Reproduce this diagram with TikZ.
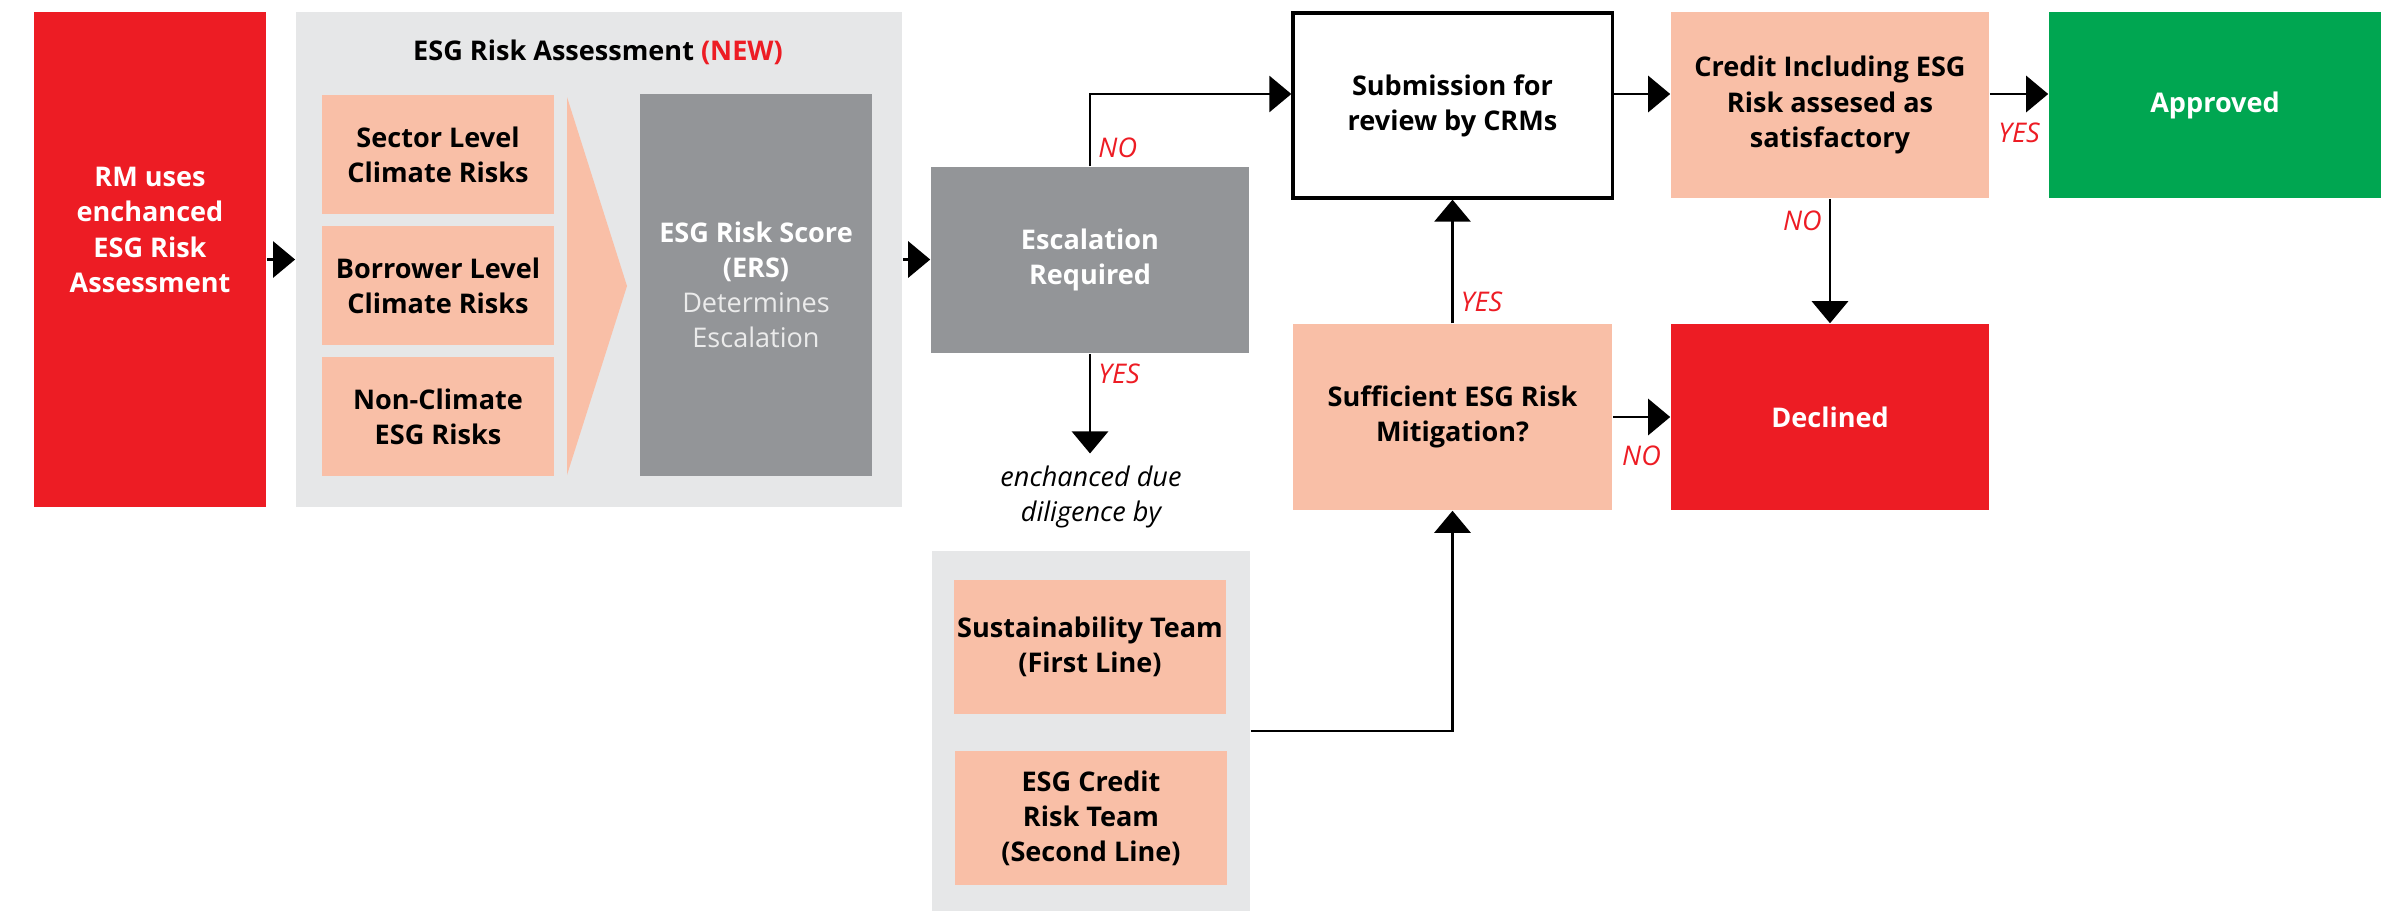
\documentclass[tikz,border=0pt]{standalone}
\usepackage{fontspec}
\setmainfont{Open Sans}
\usetikzlibrary{arrows.meta,positioning,calc}
\definecolor{esgred}{HTML}{ED1C24}
\definecolor{salmon}{HTML}{F9BFA7}
\definecolor{panelgrey}{HTML}{E6E7E8}
\definecolor{darkgrey}{HTML}{939598}
\definecolor{okgreen}{HTML}{00A651}
\def\chevron{(567,97) -- (627,286) -- (567,475) -- cycle}
\def\txt{\fontsize{7.7}{10}\selectfont}
\def\light{\mdseries\color{white!92!black}}

\begin{document}
\begin{tikzpicture}[x=0.01cm,y=-0.01cm,
  box/.style={inner sep=0pt,align=center,font=\txt\bfseries},
  riskbox/.style={box,fill=salmon,minimum width=2.32cm,minimum height=1.19cm},
  flowbox/.style={box,minimum width=3.18cm,minimum height=1.86cm},
  answer/.style={text=esgred,font=\txt\itshape,inner sep=2pt},
  arr/.style={line width=0.8pt,-{Triangle[length=0.22cm,width=0.36cm]}}]
\useasboundingbox (0,0) rectangle (2388,911);
\coordinate (toprow) at (0,94);
   % assessment block
   \node[box,fill=esgred,minimum width=2.32cm,minimum height=4.95cm] (rm) at (150,259.5) {};
   \node[box,text=white] (rmtext) at (150,230) {RM uses\\enchanced\\ESG Risk\\Assessment};
   \node[box,fill=panelgrey,minimum width=6.06cm,minimum height=4.95cm] (panel) at (599,259.5) {};
   \node[box] (title) at (598,52) {ESG Risk Assessment \textcolor{esgred}{(NEW)}};
   \node[riskbox] (sector) at (438,154.5) {Sector Level\\Climate Risks};
   \node[riskbox] (borrower) at (438,285.5) {Borrower Level\\Climate Risks};
   \node[riskbox] (nonclim) at (438,416.5) {Non-Climate\\ESG Risks};
   \fill[salmon] \chevron;
   \node[box,fill=darkgrey,text=white,minimum width=2.32cm,minimum height=3.82cm] (ers) at (756,285) {ESG Risk Score\\(ERS)\\\light Determines\\\light Escalation};
   % decisions
   \node[flowbox,fill=darkgrey,text=white] (esc) at (1090,260) {Escalation\\Required};
   \node[flowbox,draw,line width=0.9pt,minimum width=3.19cm,minimum height=1.85cm] (sub) at (1452.5,105.5) {Submission for\\review by CRMs};
   \node[flowbox,fill=salmon] (credit) at (1830,105) {Credit Including ESG\\Risk assesed as\\satisfactory};
   \node[flowbox,fill=okgreen,text=white,minimum width=3.32cm] (approved) at (2215,105) {Approved};
   \node[flowbox,fill=salmon,minimum width=3.19cm] (suff) at (1452.5,417) {Sufficient ESG Risk\\Mitigation?};
   \node[flowbox,fill=esgred,text=white] (declined) at (1830,417) {Declined};
   % due diligence teams
   \node[align=center,font=\txt\itshape] (due) at (1091,497) {enchanced due\\diligence by};
   \node[box,fill=panelgrey,minimum width=3.18cm,minimum height=3.6cm] (teams) at (1091,731) {};
   \node[box,fill=salmon,minimum width=2.72cm,minimum height=1.34cm] (sust) at (1090,647) {Sustainability Team\\(First Line)};
   \node[box,fill=salmon,minimum width=2.72cm,minimum height=1.34cm] (esgcr) at (1091,818) {ESG Credit\\Risk Team\\(Second Line)};
   % arrows
   \draw[arr] (rm.east) -- (panel.west);
   \draw[arr] (panel.east) -- (panel.east -| esc.west);
   \draw[arr] (esc.north) |- (sub.west |- toprow) node[answer,pos=0.13,right] {NO};
   \draw[arr] (esc.south) -- (esc.south |- due.north) node[answer,pos=0.2,right] {YES};
   \draw[arr] (sub.east |- toprow) -- (credit.west |- toprow);
   \draw[arr] (credit.east |- toprow) -- (approved.west |- toprow) node[answer,midway,below=0.2cm] {YES};
   \draw[arr] (credit.south) -- (declined.north) node[answer,pos=0.18,left] {NO};
   \draw[arr] (suff.north) -- (sub.south) node[answer,pos=0.17,right] {YES};
   \draw[arr] (suff.east) -- (declined.west) node[answer,midway,below=0.2cm] {NO};
   \draw[arr] (teams.east) -| (suff.south);
\end{tikzpicture}
\end{document}
